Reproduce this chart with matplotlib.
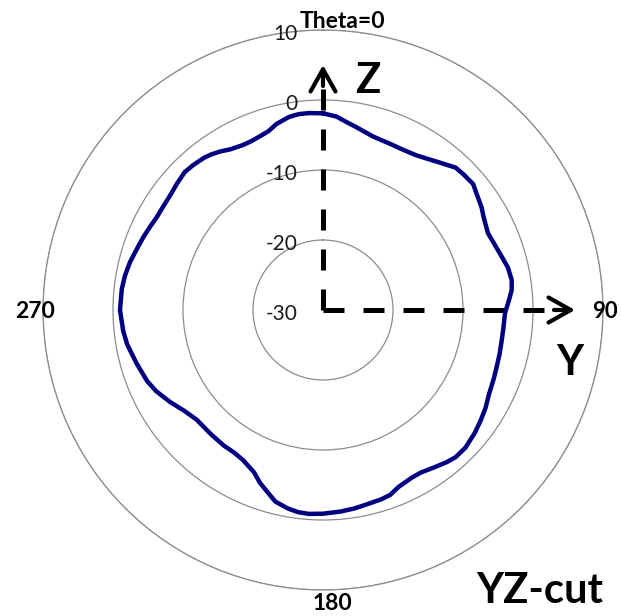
import numpy as np
import matplotlib
matplotlib.use('Agg')
import matplotlib.pyplot as plt

plt.rcParams['font.family'] = ['Lato', 'DejaVu Sans']

# YZ-cut pattern, theta in degrees (0 = +Z, clockwise), gain in dB
theta_deg = [0, 4, 8, 10, 16, 22, 27, 31, 35, 38, 43, 46, 50, 53, 57, 60, 65,
             72, 77, 81, 84, 87, 91, 96, 100, 104, 108, 112, 117, 121, 125,
             129, 134, 138, 141, 145, 149, 152, 157, 160, 163, 168, 171, 175,
             180, 184, 187, 190, 194, 196, 200, 203, 208, 212, 216, 222, 229,
             234, 239, 244, 248, 254, 260, 264, 270, 276, 280, 284, 288, 292,
             296, 299, 303, 307, 311, 315, 318, 322, 324, 327, 330, 334, 337,
             340, 343, 346, 350, 353, 356]
gain_db = [-1.9, -2.3, -3.1, -3.4, -4.2, -4.4, -4.4, -4.2, -3.7, -3.2, -2.2,
           -2.1, -2.0, -2.5, -3.0, -3.5, -4.0, -3.5, -2.9, -2.7, -2.9, -3.4,
           -4.0, -4.1, -4.1, -4.0, -3.9, -3.7, -3.4, -2.9, -2.5, -2.1, -1.7,
           -1.7, -2.0, -2.5, -2.9, -2.9, -2.5, -1.9, -1.7, -1.5, -1.3, -1.1,
           -0.9, -0.8, -0.9, -1.2, -1.8, -2.5, -3.7, -4.8, -5.7, -6.0, -6.0,
           -6.1, -6.1, -5.5, -4.5, -3.5, -2.9, -2.3, -1.6, -1.3, -1.0, -1.1,
           -1.3, -1.6, -2.0, -2.3, -2.6, -2.8, -2.8, -2.7, -2.4, -2.1, -2.2,
           -2.4, -2.6, -3.0, -3.5, -3.8, -3.8, -3.6, -3.3, -2.6, -2.0, -1.8,
           -1.8]

r_min, r_max = -30, 10
ring_values = [-20, -10, 0, 10]
ring_labels = ['10', '0', '-10', '-20', '-30']
ring_label_r = [10, 0, -10, -20, -30]

# axis arrow tips (dB along the radius)
z_tip = 5.0
y_tip = 6.0

W, H = 621, 616
fig = plt.figure(figsize=(W / 100, H / 100), dpi=100)
ax = fig.add_axes([43 / W, 26 / H, 560 / W, 560 / H], projection='polar')
ax.set_theta_zero_location('N')
ax.set_theta_direction(-1)
ax.set_ylim(r_min, r_max)

ax.set_yticks(ring_values)
ax.set_yticklabels([])
ax.set_xticks([])
ax.yaxis.grid(True, color='#8c8c8c', linewidth=0.9)
ax.xaxis.grid(False)
ax.spines['polar'].set_color('#8c8c8c')
ax.spines['polar'].set_linewidth(0.9)

# radial labels sit just left of the 0-degree line
for lab, r in zip(ring_labels, ring_label_r):
    ax.annotate(lab, xy=(0, r), xytext=(-18, -3), textcoords='offset points',
                ha='right', va='center', fontsize=15, color='#1a1a1a')

# pattern
t = np.deg2rad(theta_deg + [theta_deg[0] + 360])
g = np.array(gain_db + [gain_db[0]])
ax.plot(t, g, color='#000080', linewidth=3.2, solid_joinstyle='round')

# dashed Z and Y axes from the origin
dash = dict(color='black', linewidth=3.6, dashes=(4.2, 3.8), dash_capstyle='butt')
ax.plot([0, 0], [r_min, z_tip - 1.5], **dash)
ax.plot([np.pi / 2, np.pi / 2], [r_min, y_tip - 1.5], **dash)
head = dict(arrowstyle='->,head_length=0.8,head_width=0.45', color='black',
            lw=3.0, mutation_scale=20, shrinkA=0, shrinkB=0)
ax.annotate('', xy=(0, z_tip), xytext=(0, z_tip - 3), arrowprops=head)
ax.annotate('', xy=(np.pi / 2, y_tip), xytext=(np.pi / 2, y_tip - 3), arrowprops=head)


def fig_text(x, y, s, **kw):
    fig.text(x / W, 1 - y / H, s, **kw)


fig_text(342, 21, 'Theta=0', ha='center', va='center', fontsize=16.5, fontweight='bold')
fig_text(35, 312, '270', ha='center', va='center', fontsize=16.5, fontweight='bold')
fig_text(618, 312, '90', ha='right', va='center', fontsize=16, fontweight='bold')
fig_text(332, 603, '180', ha='center', va='center', fontsize=16.5, fontweight='bold')

fig_text(368, 81, 'Z', ha='center', va='center', fontsize=30, fontweight='bold')
fig_text(570, 363, 'Y', ha='center', va='center', fontsize=30, fontweight='bold')
fig_text(540, 591, 'YZ-cut', ha='center', va='center', fontsize=30, fontweight='bold')

fig.savefig('out.png', dpi=100)
